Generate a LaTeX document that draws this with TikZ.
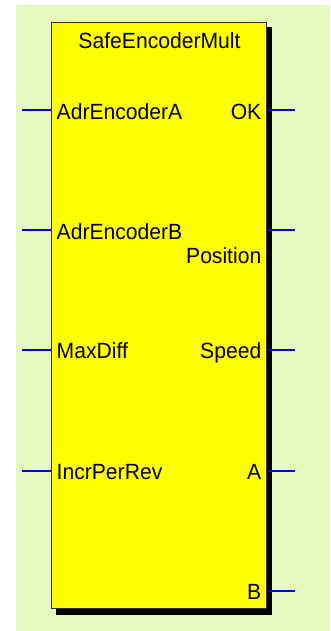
\documentclass[tikz,border=0pt]{standalone}
\usepackage{fontspec}
\setmainfont{Liberation Sans}[FakeStretch=0.96]
\begin{document}
\begin{tikzpicture}[x=1pt,y=-1pt,
  pin/.style={draw=pinblue, line width=1.2pt},
  lbl/.style={inner sep=0pt, font=\fontsize{22}{24}\selectfont, text=black},
  inlbl/.style={lbl, anchor=base west},
  outlbl/.style={lbl, anchor=base east}]
  \definecolor{bgpanel}{RGB}{229,248,190}
  \definecolor{pinblue}{RGB}{0,0,255}
  \definecolor{blockfill}{RGB}{255,255,0}
  \useasboundingbox (0,0) rectangle (330,631);
  % panel background
  \fill[bgpanel] (16,5) rectangle (330,631);
  % block shadow and body
  \fill[black] (56,27) rectangle (272,615);
  \node[draw=black!80, line width=0.8pt, fill=blockfill, minimum width=215pt,
        minimum height=586pt, inner sep=0pt] (blk) at (158.5,315) {};
  % title
  \node[lbl, anchor=base] (title) at (159.5,48.5) {SafeEncoderMult};
  % input pins
  \coordinate (iA) at (22,110);
  \coordinate (iB) at (22,230);
  \coordinate (iM) at (22,350);
  \coordinate (iI) at (22,471);
  \draw[pin] (iA) -- (blk.west |- iA);
  \draw[pin] (iB) -- (blk.west |- iB);
  \draw[pin] (iM) -- (blk.west |- iM);
  \draw[pin] (iI) -- (blk.west |- iI);
  \node[inlbl] (lA) at (56.5,119.5) {AdrEncoderA};
  \node[inlbl] (lB) at (56.5,239.5) {AdrEncoderB};
  \node[inlbl] (lM) at (56.5,358.5) {MaxDiff};
  \node[inlbl] (lI) at (56.5,479.5) {IncrPerRev};
  % output pins
  \coordinate (oK) at (295,110);
  \coordinate (oP) at (295,230);
  \coordinate (oS) at (295,350);
  \coordinate (oA) at (295,471);
  \coordinate (oB) at (295,591);
  \draw[pin] (blk.east |- oK) ++(2,0) -- (oK);
  \draw[pin] (blk.east |- oP) ++(2,0) -- (oP);
  \draw[pin] (blk.east |- oS) ++(2,0) -- (oS);
  \draw[pin] (blk.east |- oA) ++(2,0) -- (oA);
  \draw[pin] (blk.east |- oB) ++(2,0) -- (oB);
  \node[outlbl] (rK) at (261.5,119.5) {OK};
  \node[outlbl] (rP) at (261.5,263) {Position};
  \node[outlbl] (rS) at (261.5,358.5) {Speed};
  \node[outlbl] (rA) at (261.5,479.5) {A};
  \node[outlbl] (rB) at (261.5,599) {B};
\end{tikzpicture}
\end{document}
